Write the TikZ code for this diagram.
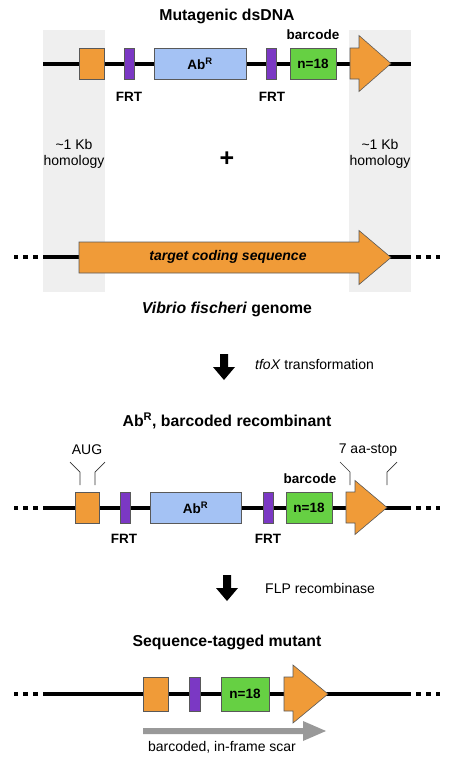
\documentclass[tikz,border=0pt]{standalone}
\usepackage{fontspec}
\setmainfont{Liberation Sans}
\definecolor{gorange}{HTML}{F09B38}
\definecolor{gpurple}{HTML}{7B38C4}
\definecolor{gblue}{HTML}{A4C2F4}
\definecolor{ggreen}{HTML}{66D043}
\definecolor{hgray}{HTML}{EFEFEF}
\definecolor{sgray}{HTML}{999999}
\tikzset{
  elem/.style={draw=black!65, line width=0.6pt, minimum height=31pt, inner sep=0pt, font=\fontsize{13.5}{15}\selectfont\bfseries},
  orangebox/.style={elem, fill=gorange},
  frtbox/.style={elem, fill=gpurple, minimum width=10pt},
  abbox/.style={elem, fill=gblue},
  bcbox/.style={elem, fill=ggreen, minimum width=46pt},
  backbone/.style={line width=4pt},
  dots/.style={line width=4pt, dash pattern=on 5pt off 5pt, dash phase=5pt},
  blabel/.style={font=\fontsize{13.5}{15}\selectfont\bfseries, inner sep=0pt},
  rlabel/.style={font=\fontsize{14}{16}\selectfont, inner sep=0pt},
  title/.style={font=\fontsize{15.8}{18}\selectfont\bfseries, inner sep=0pt},
  genearrow/.style={draw=black!65, line width=0.6pt, fill=gorange, line join=miter},
  bracket/.style={draw=black!80, line width=0.7pt},
}
\newcommand{\genearr}[6]{% x0, xneck, xtip, yc, shafthalf, headhalf
  \path[genearrow] (#1,#4-#5) -- (#2,#4-#5) -- (#2,#4-#6) -- (#3,#4) -- (#2,#4+#6) -- (#2,#4+#5) -- (#1,#4+#5) -- cycle;}
\newcommand{\blockdown}[3]{% xc, ytop, ytip
  \fill[black] (#1-4,#2) -- (#1+4,#2) -- (#1+4,#3-13) -- (#1+11,#3-13) -- (#1,#3) -- (#1-11,#3-13) -- (#1-4,#3-13) -- cycle;}
\begin{document}
\begin{tikzpicture}[x=1pt,y=-1pt]
\useasboundingbox (0,0) rectangle (454,764);
% homology regions
\fill[hgray] (43,30) rectangle (105,292);
\fill[hgray] (349,30) rectangle (411,292);

% ---------- Mutagenic dsDNA ----------
\node[title] (t1) at (227,16) {Mutagenic dsDNA};
\coordinate (l1a) at (43,63.5);
\coordinate (l1b) at (411,63.5);
\draw[backbone] (l1a) -- (l1b);
\node[orangebox, minimum width=25pt] (o1) at (91.5,63.5) {};
\node[frtbox] (f1) at (129,63.5) {};
\node[abbox, minimum width=92pt] (ab1) at (200,63.5) {Ab\textsuperscript{R}};
\node[frtbox] (f2) at (271.5,63.5) {};
\node[bcbox] (bc1) at (313,63.5) {n=18};
\genearr{350}{359}{391}{63.5}{15.5}{28}
\node[blabel] (fl1) at (129,97) {FRT};
\node[blabel] (fl2) at (272,97) {FRT};
\node[blabel] (bl1) at (313,35) {barcode};

\node[rlabel, align=center] (h1) at (74,154) {\textasciitilde 1 Kb\\homology};
\node[rlabel, align=center] (h2) at (380,154) {\textasciitilde 1 Kb\\homology};
\node[font=\fontsize{25}{25}\selectfont\bfseries, inner sep=0pt] (plus) at (227,159) {+};

% ---------- genome ----------
\coordinate (g0) at (14,257);
\coordinate (ga) at (43,257);
\coordinate (gb) at (411,257);
\coordinate (g1) at (440,257);
\draw[dots] (ga) -- (g0);
\draw[backbone] (ga) -- (gb);
\draw[dots] (gb) -- (g1);
\genearr{79}{359}{391}{257.5}{15.5}{27}
\node[blabel, font=\fontsize{14}{16}\selectfont\bfseries\itshape] (tcs) at (228,257) {target coding sequence};
\node[title] (t2) at (227,309) {\textit{Vibrio fischeri} genome};

% ---------- arrow 1 ----------
\blockdown{224}{354}{380}
\node[rlabel, anchor=west] (tfox) at (255,364) {\textit{tfoX} transformation};

% ---------- recombinant ----------
\node[title] (t3) at (227,421) {Ab\textsuperscript{R}, barcoded recombinant};
\coordinate (r0) at (14,508);
\coordinate (ra) at (43,508);
\coordinate (rb) at (411,508);
\coordinate (r1) at (440,508);
\draw[dots] (ra) -- (r0);
\draw[backbone] (ra) -- (rb);
\draw[dots] (rb) -- (r1);
\node[orangebox, minimum width=24pt] (o2) at (87,507.5) {};
\node[frtbox] (f3) at (125,507.5) {};
\node[abbox, minimum width=91pt] (ab2) at (195.5,507.5) {Ab\textsuperscript{R}};
\node[frtbox] (f4) at (268,507.5) {};
\node[bcbox] (bc2) at (309,507.5) {n=18};
\genearr{346}{355}{387}{507.5}{15.5}{27}
\node[blabel] (fl3) at (124,539) {FRT};
\node[blabel] (fl4) at (268,539) {FRT};
\node[blabel] (bl2) at (310,479) {barcode};
\node[rlabel] (aug) at (87,450) {AUG};
\node[rlabel] (stop) at (368,450) {7 aa-stop};
\draw[bracket] (70,462) -- (80,472) -- (80,485);
\draw[bracket] (105,462) -- (95,472) -- (95,485);
\draw[bracket] (340,462) -- (350,472) -- (350,485);
\draw[bracket] (397,462) -- (387,472) -- (387,485);

% ---------- arrow 2 ----------
\blockdown{227}{575}{601}
\node[rlabel, anchor=west] (flp) at (265,588) {FLP recombinase};

% ---------- mutant ----------
\node[title] (t4) at (227,642) {Sequence-tagged mutant};
\coordinate (m0) at (14,694);
\coordinate (ma) at (43,694);
\coordinate (mb) at (411,694);
\coordinate (m1) at (440,694);
\draw[dots] (ma) -- (m0);
\draw[backbone] (ma) -- (mb);
\draw[dots] (mb) -- (m1);
\node[orangebox, minimum width=25pt, minimum height=34pt] (o3) at (155.5,694) {};
\node[frtbox, minimum width=11pt, minimum height=34pt] (f5) at (194.5,694) {};
\node[bcbox, minimum width=48pt, minimum height=34pt] (bc3) at (245,694) {n=18};
\genearr{284}{293}{328}{694}{17}{29}
% scar arrow
\fill[sgray] (143,728) -- (303,728) -- (303,721) -- (326,731) -- (303,741) -- (303,734) -- (143,734) -- cycle;
\node[rlabel] (scar) at (222,747) {barcoded, in-frame scar};
\end{tikzpicture}
\end{document}
